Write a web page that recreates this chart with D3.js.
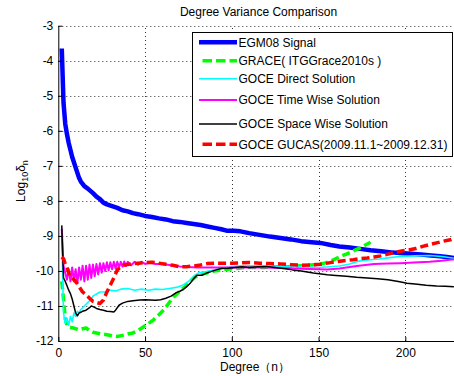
<!DOCTYPE html>
<html><head><meta charset="utf-8">
<script src="https://cdn.jsdelivr.net/npm/d3@7"></script>
<style>
body{margin:0;background:#fff}
text{font-family:"Liberation Sans",Arial,sans-serif}
</style>
</head><body>
<svg id="c" width="454" height="376"></svg>
<script>
// ---------------- data ----------------
const xTicks = [0, 50, 100, 150, 200];
const yTicks = [-3, -4, -5, -6, -7, -8, -9, -10, -11, -12];
const seriesNames = ["EGM08 Signal", "GRACE( ITGGrace2010s )", "GOCE Direct Solution",
  "GOCE Time Wise Solution", "GOCE Space Wise Solution", "GOCE GUCAS(2009.11.1~2009.12.31)"];

const egm08 = [[2,-3.65],[3,-5.2],[4,-5.8],[5,-6.1],[6,-6.35],[7,-6.55],[8,-6.75],[9,-6.9],[10,-7.05],
  [11,-7.2],[12,-7.35],[13,-7.45],[15,-7.58],[17,-7.65],[20,-7.78],[22,-7.88],[24,-7.95],[26,-8.05],
  [28,-8.1],[31,-8.15],[34,-8.2],[37,-8.27],[40,-8.3],[43,-8.35],[46,-8.38],[50,-8.43],[54,-8.46],
  [58,-8.5],[62,-8.53],[66,-8.58],[70,-8.6],[74,-8.63],[78,-8.66],[82,-8.69],[86,-8.73],[90,-8.77],
  [94,-8.81],[97,-8.85],[101,-8.85],[105,-8.87],[110,-8.92],[116,-8.97],[122,-9.02],[128,-9.06],
  [134,-9.1],[140,-9.15],[146,-9.18],[151,-9.2],[157,-9.26],[162,-9.3],[168,-9.33],[174,-9.37],
  [180,-9.41],[186,-9.44],[192,-9.47],[197,-9.49],[203,-9.51],[209,-9.53],[215,-9.56],[220,-9.58],
  [224,-9.6],[228,-9.63]];

const grace = [[2,-10.3],[3,-10.8],[4,-11.35],[5,-11.55],[6,-11.6],[8,-11.62],[10,-11.65],[12,-11.68],
  [14,-11.65],[16,-11.63],[18,-11.7],[20,-11.75],[22,-11.77],[25,-11.8],[28,-11.82],[31,-11.85],
  [34,-11.87],[37,-11.84],[40,-11.8],[43,-11.77],[46,-11.7],[49,-11.6],[52,-11.5],[55,-11.39],
  [58,-11.25],[61,-11.1],[64,-10.9],[67,-10.72],[70,-10.58],[73,-10.45],[76,-10.3],[79,-10.17],
  [82,-10.1],[86,-10.05],[90,-10.0],[94,-9.97],[98,-9.95],[103,-9.93],[108,-9.9],[114,-9.9],
  [120,-9.9],[126,-9.88],[132,-9.88],[138,-9.86],[144,-9.84],[150,-9.81],[154,-9.77],[158,-9.7],
  [162,-9.6],[166,-9.52],[170,-9.43],[174,-9.34],[177,-9.26],[180,-9.18]];

const direct = [[2,-9.0],[3,-11.2],[4,-11.5],[5,-11.35],[6,-11.55],[7,-11.3],[8,-11.45],[9,-11.2],
  [10,-11.3],[11,-11.15],[12,-11.2],[13,-11.1],[14,-11.05],[15,-11.0],[16,-10.95],[17,-10.9],
  [18,-10.85],[20,-10.72],[22,-10.66],[24,-10.6],[27,-10.6],[30,-10.55],[33,-10.57],[36,-10.52],
  [40,-10.5],[44,-10.55],[48,-10.52],[52,-10.55],[56,-10.52],[60,-10.53],[64,-10.5],[68,-10.47],
  [72,-10.4],[75,-10.3],[78,-10.15],[81,-10.05],[85,-10.02],[90,-9.97],[95,-9.92],[100,-9.88],
  [105,-9.85],[110,-9.85],[120,-9.86],[130,-9.88],[140,-9.88],[150,-9.9],[162,-9.86],[168,-9.8],
  [173,-9.72],[180,-9.68],[185,-9.66],[191,-9.62],[197,-9.59],[205,-9.57],[214,-9.56],[221,-9.59],
  [228,-9.64]];

const timeWise = [[2,-8.8],[3,-9.85],[4,-10.05],[5,-10.25],[6,-9.95],[7,-10.3],[8,-9.9],[9,-10.3],
  [10,-9.95],[11,-10.35],[12,-9.9],[13,-10.25],[14,-9.85],[15,-10.3],[16,-9.85],[17,-10.25],
  [18,-9.82],[19,-10.2],[20,-9.82],[21,-10.15],[22,-9.8],[23,-10.1],[24,-9.78],[25,-10.05],
  [26,-9.78],[27,-10.0],[28,-9.75],[29,-9.98],[30,-9.75],[31,-9.95],[32,-9.74],[33,-9.93],
  [34,-9.74],[35,-9.9],[36,-9.74],[37,-9.88],[38,-9.73],[39,-9.86],[40,-9.74],[42,-9.84],
  [44,-9.74],[46,-9.82],[48,-9.74],[50,-9.8],[53,-9.76],[56,-9.8],[60,-9.8],[65,-9.84],[70,-9.87],
  [75,-9.89],[80,-9.9],[90,-9.9],[100,-9.9],[110,-9.9],[120,-9.9],[130,-9.92],[140,-9.94],
  [150,-9.95],[155,-9.96],[162,-9.93],[172,-9.86],[182,-9.8],[190,-9.79],[197,-9.78],[205,-9.76],
  [214,-9.74],[221,-9.71],[228,-9.67]];

const spaceWise = [[2,-8.7],[3,-10.2],[4,-10.3],[5,-10.42],[6,-10.55],[7,-10.65],[8,-10.8],[9,-11.0],
  [10,-11.2],[11,-11.28],[12,-11.2],[13,-11.18],[14,-11.15],[16,-11.12],[18,-11.05],[19,-11.0],
  [20,-11.02],[22,-11.07],[24,-11.1],[26,-11.12],[28,-11.15],[30,-11.16],[32,-11.17],[33,-11.12],
  [35,-10.98],[37,-10.92],[40,-10.87],[43,-10.85],[47,-10.83],[50,-10.82],[53,-10.83],[56,-10.84],
  [59,-10.82],[62,-10.78],[65,-10.72],[68,-10.62],[70,-10.58],[72,-10.53],[74,-10.45],[76,-10.35],
  [78,-10.22],[80,-10.12],[83,-10.12],[86,-10.05],[88,-10.02],[91,-9.97],[94,-9.93],[98,-9.92],
  [102,-9.9],[106,-9.88],[110,-9.9],[115,-9.88],[120,-9.87],[125,-9.9],[130,-9.93],[135,-9.97],
  [140,-10.0],[147,-10.06],[155,-10.11],[160,-10.13],[166,-10.15],[172,-10.18],[178,-10.2],
  [184,-10.22],[190,-10.25],[196,-10.3],[201,-10.35],[207,-10.38],[212,-10.41],[218,-10.43],
  [223,-10.44],[228,-10.45]];

const gucas = [[2,-9.6],[3,-9.65],[4,-9.8],[5,-9.9],[6,-10.05],[7,-10.15],[8,-10.2],[10,-10.3],
  [12,-10.45],[14,-10.6],[16,-10.68],[18,-10.78],[20,-10.87],[22,-10.9],[24,-10.93],[26,-10.83],
  [28,-10.6],[30,-10.4],[32,-10.2],[34,-9.97],[36,-9.88],[38,-9.83],[42,-9.8],[46,-9.78],[50,-9.76],
  [54,-9.75],[58,-9.78],[62,-9.81],[66,-9.84],[70,-9.88],[74,-9.88],[78,-9.86],[82,-9.83],
  [86,-9.79],[90,-9.78],[95,-9.78],[100,-9.78],[105,-9.77],[110,-9.76],[116,-9.78],[122,-9.79],
  [128,-9.8],[134,-9.82],[140,-9.84],[146,-9.83],[151,-9.81],[156,-9.77],[161,-9.73],[166,-9.7],
  [170,-9.68],[174,-9.65],[178,-9.63],[182,-9.6],[186,-9.57],[190,-9.52],[194,-9.47],[198,-9.43],
  [202,-9.4],[206,-9.36],[210,-9.3],[214,-9.25],[218,-9.2],[222,-9.15],[226,-9.11],[228,-9.07]];

// ---------------- layout / style ----------------
const allSeries = [egm08, grace, direct, timeWise, spaceWise, gucas];
const styles = [
  {c:"#0000ff", w:4.5, d:null},
  {c:"#00ff00", w:3.5, d:"8,4"},
  {c:"#00ffff", w:1.6, d:null},
  {c:"#ff00ff", w:2, d:null},
  {c:"#000000", w:1.5, d:null},
  {c:"#ff0000", w:3.5, d:"8,4"}
];
const legendY = [42.3, 60.7, 78.7, 100, 124, 144.3];

const svg = d3.select("#c");
const x = d3.scaleLinear().domain([0, 231]).range([58.3, 459.1]);
const y = d3.scaleLinear().domain([-12, -3]).range([341, 25.7]);
const W = 454;

svg.append("defs").append("clipPath").attr("id","clip")
  .append("rect").attr("x", x(0)).attr("y", y(-3)-3).attr("width", W - x(0)).attr("height", y(-12)-y(-3)+3);

// grid
const grid = svg.append("g").attr("stroke","#333").attr("stroke-width",1).attr("stroke-dasharray","1,3");
yTicks.filter(t => t !== -12).forEach(t => {
  grid.append("line").attr("x1", x(0)).attr("x2", W).attr("y1", Math.round(y(t))+0.5).attr("y2", Math.round(y(t))+0.5);
});
xTicks.filter(t => t !== 0).forEach(t => {
  grid.append("line").attr("y1", y(-12)).attr("y2", y(-3)).attr("x1", Math.round(x(t))+0.5).attr("x2", Math.round(x(t))+0.5);
});

// lines
const line = d3.line().x(d => x(d[0])).y(d => y(d[1]));
const plot = svg.append("g").attr("clip-path","url(#clip)");
allSeries.forEach((s, i) => {
  const st = styles[i];
  plot.append("path").datum(s).attr("d", line).attr("fill","none")
    .attr("stroke", st.c).attr("stroke-width", st.w)
    .attr("stroke-dasharray", st.d).attr("stroke-linejoin","round");
});

// axes
const ax = svg.append("g").attr("transform", `translate(${x(0)},0)`)
  .call(d3.axisLeft(y).tickValues(yTicks).tickFormat(d3.format("d")).tickSize(-4).tickPadding(5).tickSizeOuter(0));
const bx = svg.append("g").attr("transform", `translate(0,${y(-12)})`)
  .call(d3.axisBottom(x).tickValues(xTicks).tickFormat(d3.format("d")).tickSize(-4).tickPadding(7).tickSizeOuter(0));
[ax, bx].forEach(g => {
  g.attr("font-family", null).attr("font-size", null);
  g.selectAll("text").style("font-size","12px").attr("fill","#000");
  g.selectAll("path,line").attr("stroke","#000");
});
ax.selectAll("text").text(d => d3.format("d")(d).replace("−","-"));

// title and labels
svg.append("text").attr("x", 258.5).attr("y", 16).attr("text-anchor","middle")
  .style("font-size","12px").text("Degree Variance Comparison");
svg.append("text").attr("x", 255).attr("y", 371).attr("text-anchor","middle")
  .style("font-size","12px").text("Degree（n）");
const yl = svg.append("text").attr("transform","translate(25,181) rotate(-90)")
  .attr("text-anchor","middle").style("font-size","12px");
yl.append("tspan").text("Log");
yl.append("tspan").attr("baseline-shift","-30%").style("font-size","9px").text("10");
yl.append("tspan").text("δ");
yl.append("tspan").attr("baseline-shift","-30%").style("font-size","9px").text("n");

// legend
const lg = svg.append("g");
lg.append("rect").attr("x",192.5).attr("y",32.5).attr("width",260).attr("height",124)
  .attr("fill","#fff").attr("stroke","#000").attr("stroke-width",1);
seriesNames.forEach((name, i) => {
  const st = styles[i];
  lg.append("line").attr("x1", st.d ? 202.5 : 199).attr("x2", 237).attr("y1", legendY[i]).attr("y2", legendY[i])
    .attr("stroke", st.c).attr("stroke-width", st.w).attr("stroke-dasharray", st.d ? "9.5,4" : null);
  lg.append("text").attr("x", 238.5).attr("y", legendY[i] + 4.3).style("font-size","12px").text(name);
});
</script>
</body></html>
